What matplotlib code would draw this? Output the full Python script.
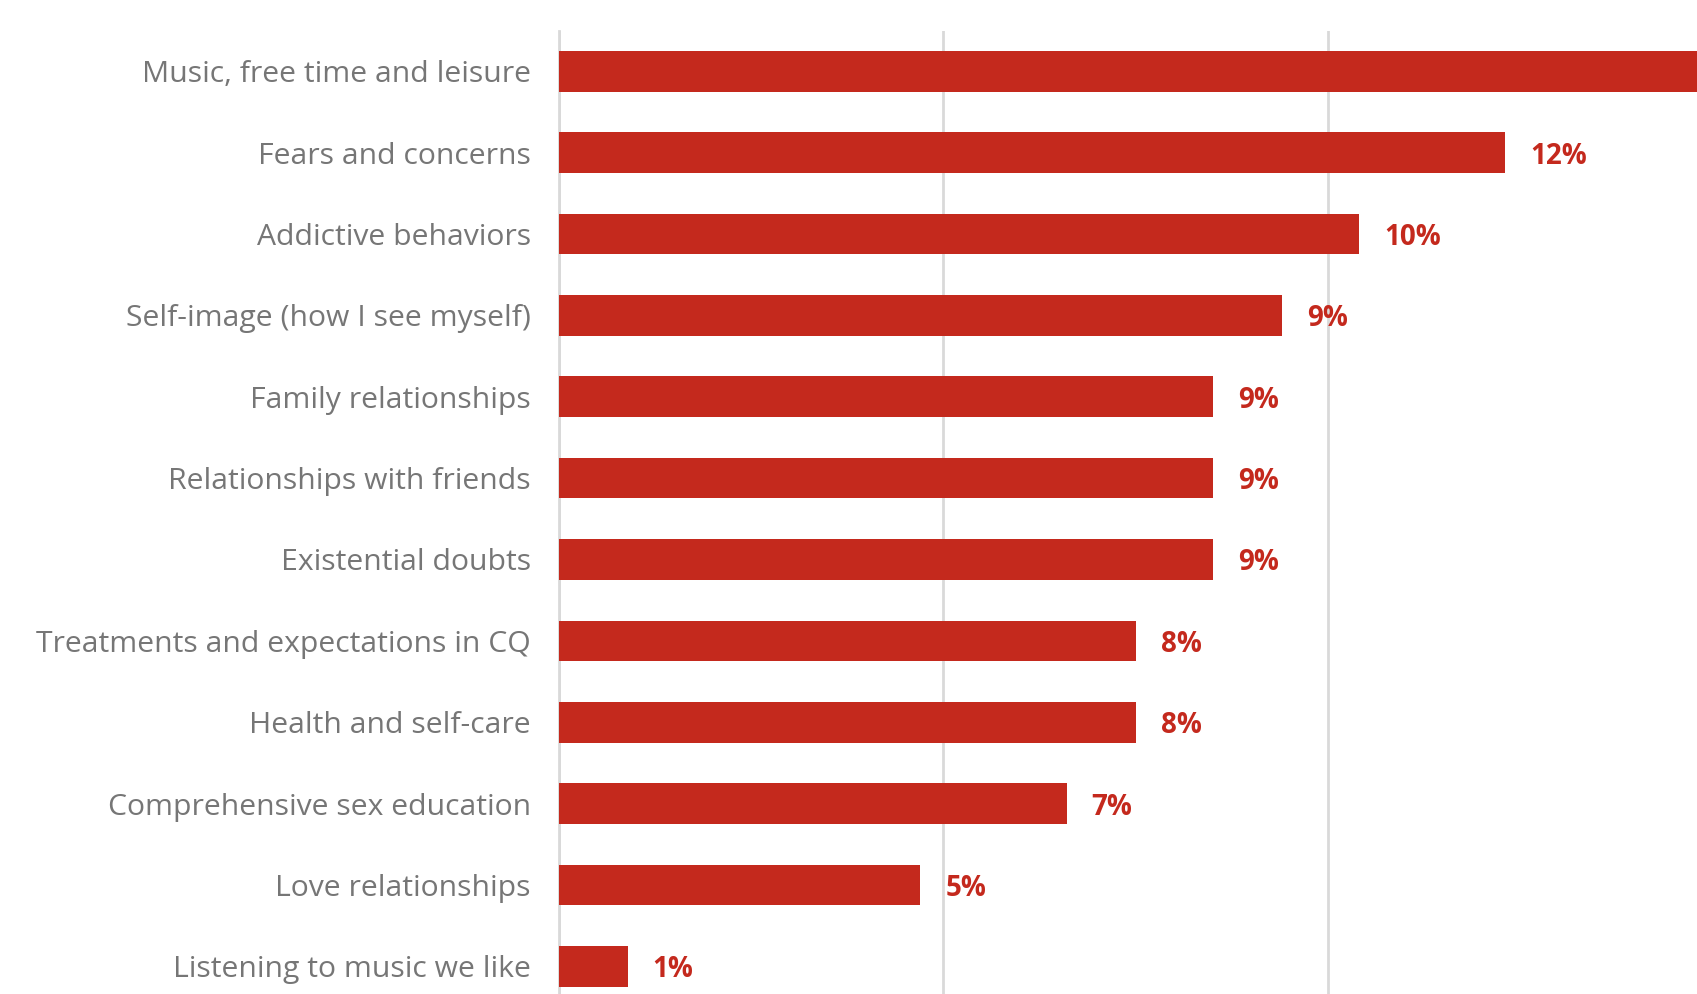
import matplotlib
matplotlib.use("Agg")
import matplotlib.pyplot as plt

# Share of mentions by topic (%)
categories = [
    "Music, free time and leisure",
    "Fears and concerns",
    "Addictive behaviors",
    "Self-image (how I see myself)",
    "Family relationships",
    "Relationships with friends",
    "Existential doubts",
    "Treatments and expectations in CQ",
    "Health and self-care",
    "Comprehensive sex education",
    "Love relationships",
    "Listening to music we like",
]
values = [15.6, 12.3, 10.4, 9.4, 8.5, 8.5, 8.5, 7.5, 7.5, 6.6, 4.7, 0.9]

BAR = "#C4291D"
LABEL_GREY = "#767676"
GRID = "#D9D9D9"

W, H, DPI = 1697, 994, 100
fig = plt.figure(figsize=(W / DPI, H / DPI), dpi=DPI)
left_px, top_px = 558.5, 31.4
ax = fig.add_axes([left_px / W, 0, 1 - left_px / W, 1 - top_px / H])

y = list(range(len(categories)))
ax.barh(y, values, height=0.5, color=BAR, zorder=3)

ax.set_xlim(0, 14.79)
ax.set_ylim(11.34, -0.49)

ax.set_xticks([0, 5, 10])
ax.xaxis.grid(True, color=GRID, linewidth=2, zorder=0)
ax.tick_params(axis="x", length=0, labelbottom=False)
ax.tick_params(axis="y", length=0, pad=20)
ax.set_yticks(y)
ax.set_yticklabels(categories, fontsize=21.7, color=LABEL_GREY, family="Open Sans")
for lbl in ax.get_yticklabels():
    lbl.set_y(lbl.get_position()[1])

for side in ("top", "right", "bottom"):
    ax.spines[side].set_visible(False)
ax.spines["left"].set_color(GRID)
ax.spines["left"].set_linewidth(2)

for yi, v in zip(y, values):
    ax.annotate(f"{round(v + 1e-9):.0f}%", xy=(v, yi), xytext=(18, -2.5),
                textcoords="offset points", va="center", ha="left",
                fontsize=20, fontweight="bold", color=BAR,
                family="Open Sans", annotation_clip=True, clip_on=True)

fig.savefig("out.png", dpi=DPI)
